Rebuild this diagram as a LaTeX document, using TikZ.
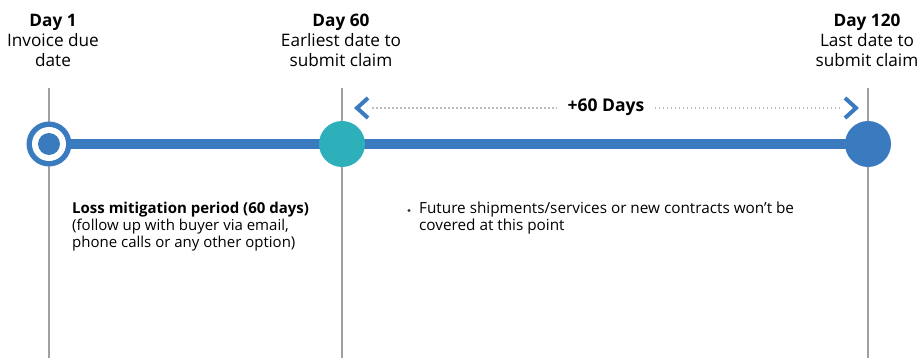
\documentclass[tikz,border=0pt]{standalone}
\usepackage{fontspec}
\setmainfont{Open Sans}
\usepackage{xcolor}
\definecolor{lineblue}{HTML}{3A7ABF}
\definecolor{dotteal}{HTML}{2EB0BA}
\definecolor{tickgray}{HTML}{A0A0A0}
\usetikzlibrary{calc}

\tikzset{
  head/.style={align=center, font=\fontsize{17.2}{20}\selectfont, inner sep=0pt},
  note/.style={align=left, anchor=north west, font=\fontsize{15}{17}\selectfont, inner sep=0pt},
  tick/.style={line width=2pt, tickgray},
  chev/.style={line width=4pt, lineblue, line cap=butt, line join=miter},
  dots/.style={tickgray!70, line width=2pt, dash pattern=on 1.5pt off 2.5pt},
}

\begin{document}
\begin{tikzpicture}[x=1pt, y=-1pt]
        \useasboundingbox (0,0) rectangle (922,358);

        % day markers
        \coordinate (d1) at (49,144);
        \coordinate (d60) at (342,144);
        \coordinate (d120) at (868,144);

        \draw[tick] (49,88)--(49,358);
        \draw[tick] (342,88)--(342,358);
        \draw[tick] (868,88)--(868,358);

        \draw[line width=10pt, lineblue] (d1)--(d120);

        \fill[lineblue] (d1) circle (22.5);
        \fill[white] (d1) circle (17);
        \fill[lineblue] (d1) circle (11);
        \fill[dotteal] (d60) circle (23);
        \fill[lineblue] (d120) circle (23);

        % headings
        \node[head] (h1) at (53,40) {\textbf{Day 1}\\Invoice due\\date};
        \node[head] (h60) at (341,40) {\textbf{Day 60}\\Earliest date to\\submit claim};
        \node[head] (h120) at (867,40) {\textbf{Day 120}\\Last date to\\submit claim};

        % +60 days span
        \node[font=\fontsize{17.5}{20}\selectfont\bfseries, inner sep=0pt] (span) at (606,107) {+60 Days};
        \coordinate (sl) at (372,108);
        \coordinate (sr) at (842,108);
        \draw[dots] (sl)--($(span.west)+(-10,1)$);
        \draw[dots] ($(span.east)+(10,1)$)--(sr);
        \draw[chev] (368,98)--(357,108)--(368,118);
        \draw[chev] (845,98)--(856,108)--(845,118);

        % notes
        \node[note] (loss) at (72,202) {\textbf{Loss mitigation period (60 days)}\\(follow up with buyer via email,\\phone calls or any other option)};
        \node[note, font=\fontsize{15.3}{17}\selectfont] (fut) at (419,202) {Future shipments/services or new contracts won't be\\covered at this point};
        \fill[black!80] ($(fut.north west)+(-10,8.5)$) circle (1.7);
    \end{tikzpicture}
\end{document}
